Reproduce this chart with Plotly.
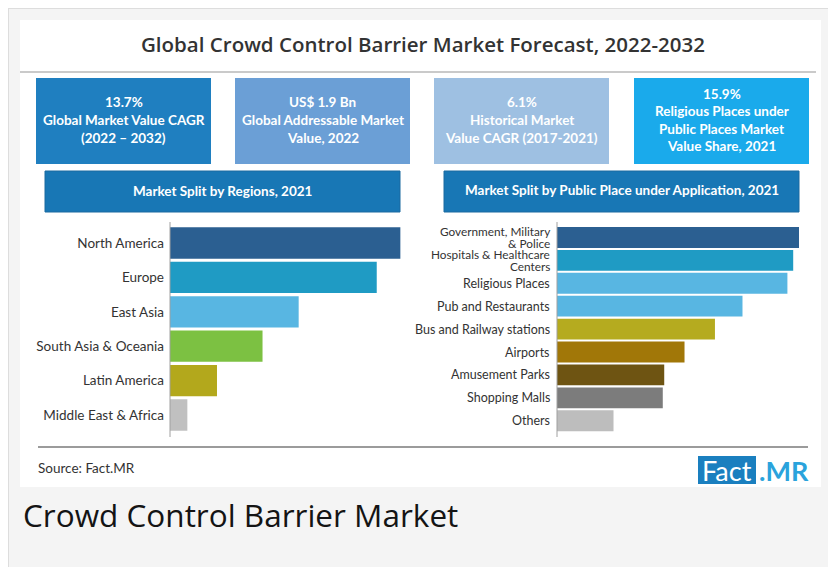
import plotly.graph_objects as go

# page body margin of the browser is 8px; figure fills the rest of the window
OFF = 8
W, H = 836 - OFF, 567 - OFF

# ---------------- data ----------------
regions = ["North America", "Europe", "East Asia", "South Asia & Oceania",
           "Latin America", "Middle East & Africa"]
region_share = [31.9, 28.6, 17.8, 12.8, 6.5, 2.4]
region_colors = ["#2b5f91", "#1f9bc4", "#58b6e2", "#7cc142", "#b3a81c", "#c0c0c0"]

applications = ["Government, Military<br>& Police", "Hospitals & Healthcare<br>Centers",
                "Religious Places", "Pub and Restaurants", "Bus and Railway stations",
                "Airports", "Amusement Parks", "Shopping Malls", "Others"]
app_share = [16.7, 16.3, 15.9, 12.8, 10.9, 8.8, 7.4, 7.3, 3.9]
app_colors = ["#2b5f91", "#1f9bc4", "#58b6e2", "#58b6e2", "#b5ab1f",
              "#a17708", "#6e5412", "#7c7c7c", "#bdbdbd"]

title_text = "Global Crowd Control Barrier Market Forecast, 2022-2032"
kpi_boxes = [
    (["13.7%", "Global Market Value CAGR", "(2022 – 2032)"], "#1f7fc0"),
    (["US$ 1.9 Bn", "Global Addressable Market", "Value, 2022"], "#6b9fd6"),
    (["6.1%", "Historical Market", "Value CAGR (2017-2021)"], "#9ec0e2"),
    (["15.9%", "Religious Places under", "Public Places Market", "Value Share, 2021"], "#1aaaeb"),
]
header_left = "Market Split by Regions, 2021"
header_right = "Market Split by Public Place under Application, 2021"
source_text = "Source: Fact.MR"
caption_text = "Crowd Control Barrier Market"


def px(x):
    return (x - OFF) / W


def py(y):
    return 1 - (y - OFF) / H


fig = go.Figure()

fig.add_trace(go.Bar(
    x=region_share, y=regions, orientation="h",
    marker=dict(color=region_colors, line=dict(width=0)),
    xaxis="x", yaxis="y", showlegend=False, hoverinfo="x+y"))

fig.add_trace(go.Bar(
    x=app_share, y=applications, orientation="h",
    marker=dict(color=app_colors, line=dict(width=0)),
    xaxis="x2", yaxis="y2", showlegend=False, hoverinfo="x+y"))

shapes = []
annotations = []


def rect(x0, y0, x1, y1, fill, line=None, lw=0, layer="below"):
    shapes.append(dict(type="rect", xref="paper", yref="paper",
                       x0=px(x0), x1=px(x1), y0=py(y1), y1=py(y0),
                       fillcolor=fill, line=dict(color=line or fill, width=lw),
                       layer=layer))


def hline(x0, x1, y, color, w=1):
    shapes.append(dict(type="line", xref="paper", yref="paper",
                       x0=px(x0), x1=px(x1), y0=py(y), y1=py(y),
                       line=dict(color=color, width=w), layer="below"))


def vline(x, y0, y1, color, w=1):
    shapes.append(dict(type="line", xref="paper", yref="paper",
                       x0=px(x), x1=px(x), y0=py(y0), y1=py(y1),
                       line=dict(color=color, width=w), layer="above"))


def text(x, y, s, size, color="#333333", family="Lato", weight="normal",
         xanchor="center"):
    annotations.append(dict(xref="paper", yref="paper", x=px(x), y=py(y),
                            text=s, showarrow=False, xanchor=xanchor,
                            yanchor="middle",
                            font=dict(family=family, size=size, color=color,
                                      weight=weight)))


# page frame and card
rect(8, 8, 834, 580, "#f4f4f4", "#dddddd", 2)
rect(20, 20, 821, 487, "#ffffff")

# title
text(423, 44, title_text, 20.5, "#333333", "Open Sans", 600)
hline(20, 816, 72, "#b8b8b8", 1.5)

# KPI boxes
box_x = [(36, 211), (235, 410), (434, 609), (634, 809)]
for (lines, col), (x0, x1) in zip(kpi_boxes, box_x):
    rect(x0, 78, x1, 164, col)
    cx = (x0 + x1) / 2
    n = len(lines)
    step = 17 if n == 4 else 17.5
    start = 120 - step * (n - 1) / 2
    for i, ln in enumerate(lines):
        text(cx, start + i * step, ln, 13.5, "#ffffff", "Lato", "bold")

# section headers
rect(45, 171, 400, 212, "#1877b5", "#1a6aa0", 1)
rect(444, 171, 799, 212, "#1877b5", "#1a6aa0", 1)
text(222.5, 191, header_left, 13.5, "#ffffff", "Lato", "bold")
text(621.5, 190, header_right, 13.5, "#ffffff", "Lato", "bold")

# axis lines
vline(170, 222, 437, "#a0a0a0", 1)
vline(557, 222, 437, "#a0a0a0", 1)

# right-chart category labels, drawn on the y2 category axis
for cat in applications:
    parts = cat.split("<br>")
    n = len(parts)
    size = 12.5 if n == 1 else 11.8
    step = 11.45
    for i, p in enumerate(parts):
        annotations.append(dict(
            xref="paper", yref="y2", x=px(552), y=cat, text=p,
            showarrow=False, xanchor="right", yanchor="middle",
            yshift=(n - 1) * step / 2 - i * step,
            font=dict(family="Lato", size=size, color="#333333")))

# footer
hline(38, 808, 447, "#7a7a7a", 1.5)
text(36, 468, source_text, 13.5, "#333333", "Lato", "normal", "left")
rect(698, 456, 756, 484, "#1a7fbf")
text(727, 470, "Fact", 27, "#ffffff", "Lato", "normal")
text(757, 470, ".MR", 27, "#2aa3dc", "Lato", "bold", "left")

# caption
text(21, 515, caption_text, 31.5, "#141414", "Open Sans", "normal", "left")

fig.update_layout(
    width=W, height=H, autosize=False,
    margin=dict(l=0, r=0, t=0, b=0, pad=0),
    paper_bgcolor="#ffffff", plot_bgcolor="rgba(0,0,0,0)",
    shapes=shapes, annotations=annotations,
    bargap=0.09,
    xaxis=dict(domain=[px(170), px(400.6)], range=[0, 31.9], visible=False,
               fixedrange=True),
    yaxis=dict(domain=[py(432.2), py(225.8)], anchor="x", type="category",
               categoryorder="array", categoryarray=regions,
               range=[5.5, -0.5], showgrid=False, zeroline=False,
               showline=False, ticks="", ticklabelstandoff=5,
               tickfont=dict(family="Lato", size=13.5, color="#333333")),
    xaxis2=dict(domain=[px(557), px(799)], range=[0, 16.7], visible=False,
                fixedrange=True, anchor="y2"),
    yaxis2=dict(domain=[py(432.2), py(226)], anchor="x2", type="category",
                categoryorder="array", categoryarray=applications,
                range=[8.5, -0.5], showgrid=False, zeroline=False,
                showline=False, showticklabels=False, ticks=""),
    showlegend=False,
)

fig.write_html("out.html")
